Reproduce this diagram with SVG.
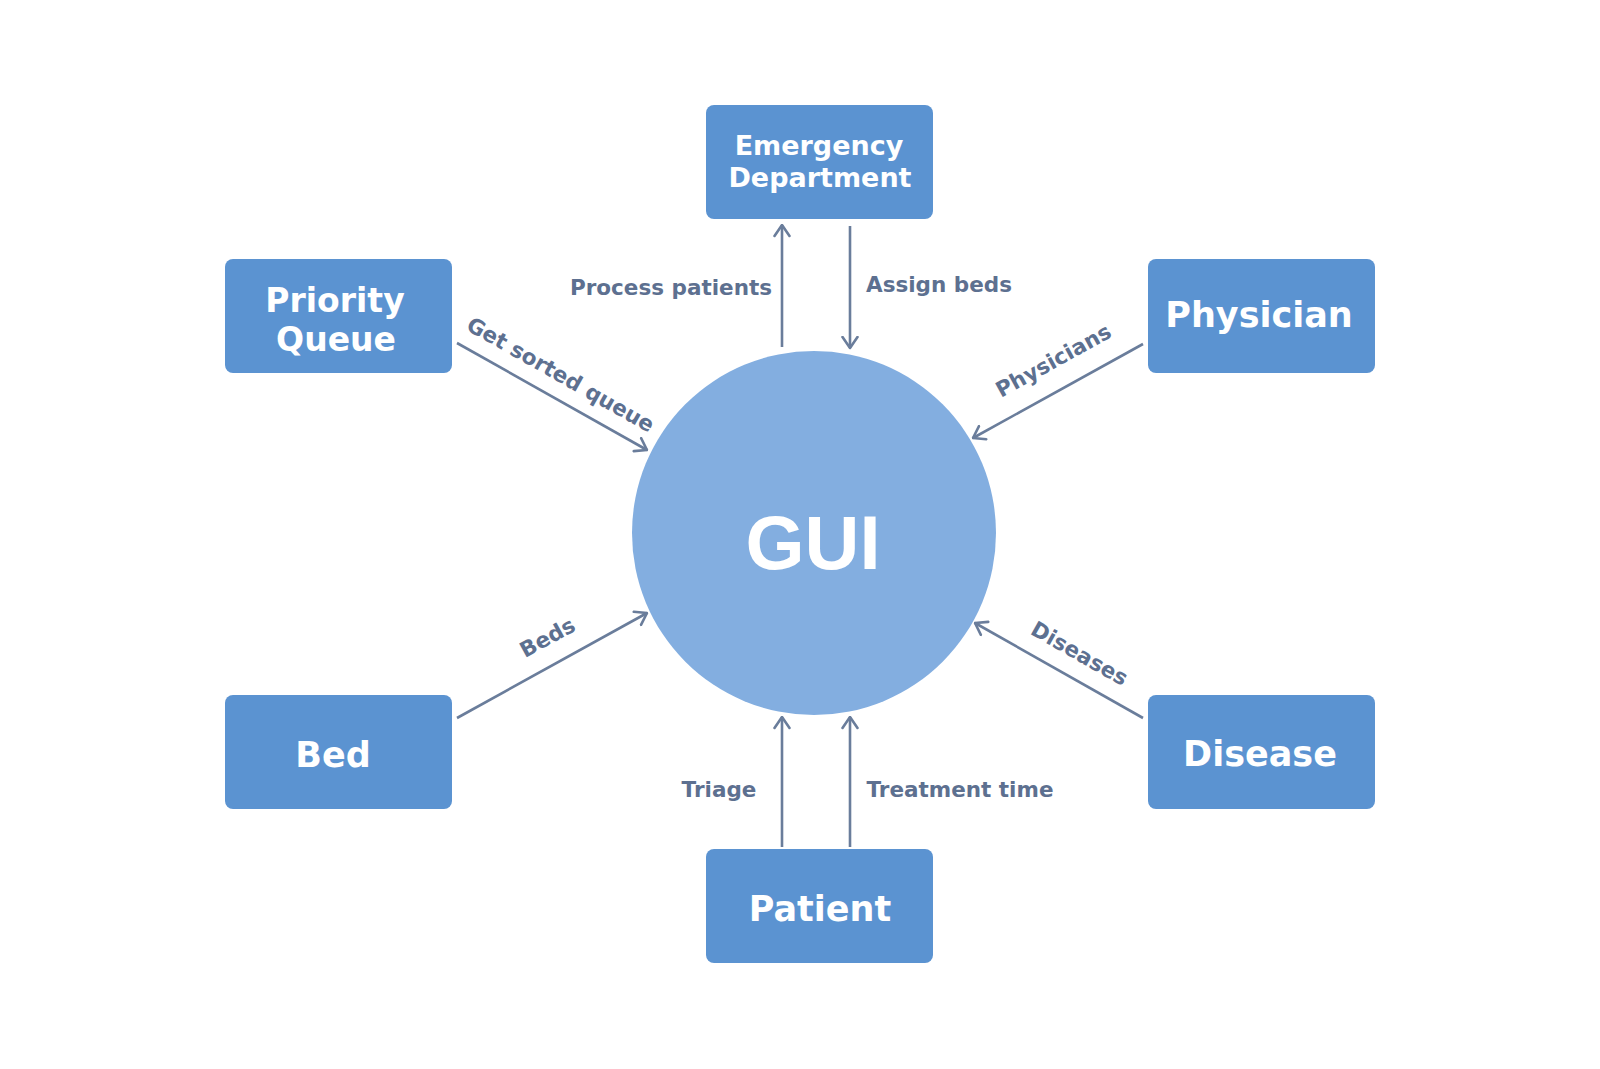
<svg xmlns="http://www.w3.org/2000/svg" width="1600" height="1069" viewBox="0 0 1600 1069">
<defs>
<style>
.box{fill:#5b93d1;}
.hub{fill:#83aee0;}
.nl{font-family:"DejaVu Sans","Liberation Sans",sans-serif;font-weight:bold;fill:#ffffff;text-anchor:middle;}
.el{font-family:"DejaVu Sans","Liberation Sans",sans-serif;font-weight:bold;font-size:21.5px;fill:#5d7090;text-anchor:middle;}
.edge{stroke:#6a7d9b;stroke-width:2.6;fill:none;marker-end:url(#arr);}
</style>
<marker id="arr" markerUnits="userSpaceOnUse" viewBox="0 0 14 18" refX="12.5" refY="9" markerWidth="14" markerHeight="18" orient="auto">
<path d="M1.5,1.5 L12.5,9 L1.5,16.5" fill="none" stroke="#6a7d9b" stroke-width="2.6" stroke-linecap="round" stroke-linejoin="round"/>
</marker>
</defs>
<rect width="1600" height="1069" fill="#ffffff"/>

<g id="connectors">
<line class="edge" x1="782" y1="347" x2="782" y2="225"/>
<line class="edge" x1="850" y1="226" x2="850" y2="348"/>
<line class="edge" x1="457" y1="343" x2="647" y2="450"/>
<line class="edge" x1="1143" y1="344" x2="973" y2="438"/>
<line class="edge" x1="457" y1="718" x2="647" y2="613"/>
<line class="edge" x1="1143" y1="718" x2="975" y2="623"/>
<line class="edge" x1="782" y1="847" x2="782" y2="717"/>
<line class="edge" x1="850" y1="847" x2="850" y2="717"/>
<text class="el" x="671" y="295">Process patients</text>
<text class="el" x="939" y="292">Assign beds</text>
<text class="el" x="719" y="797">Triage</text>
<text class="el" x="960" y="797">Treatment time</text>
<text class="el" transform="translate(557,381) rotate(29.4)">Get sorted queue</text>
<text class="el" transform="translate(1057,367) rotate(-28.9)">Physicians</text>
<text class="el" transform="translate(551,644) rotate(-28.9)">Beds</text>
<text class="el" transform="translate(1076,660) rotate(29.5)">Diseases</text>
</g>

<g id="gui">
<circle class="hub" cx="814" cy="533" r="182"/>
<text x="813" y="569" font-family="Liberation Sans, Arial, sans-serif" font-weight="bold" font-size="76" fill="#ffffff" text-anchor="middle">GUI</text>
</g>

<g id="emergency-department">
<rect class="box" x="706" y="105" width="227" height="114" rx="8"/>
<text class="nl" x="819" y="155" font-size="27">Emergency</text>
<text class="nl" x="820" y="187" font-size="27">Department</text>
</g>

<g id="priority-queue">
<rect class="box" x="225" y="259" width="227" height="114" rx="8"/>
<text class="nl" x="335" y="312" font-size="33">Priority</text>
<text class="nl" x="336" y="351" font-size="33">Queue</text>
</g>

<g id="physician">
<rect class="box" x="1148" y="259" width="227" height="114" rx="8"/>
<text class="nl" x="1259" y="327" font-size="35">Physician</text>
</g>

<g id="bed">
<rect class="box" x="225" y="695" width="227" height="114" rx="8"/>
<text class="nl" x="333" y="767" font-size="35">Bed</text>
</g>

<g id="disease">
<rect class="box" x="1148" y="695" width="227" height="114" rx="8"/>
<text class="nl" x="1260" y="766" font-size="35">Disease</text>
</g>

<g id="patient">
<rect class="box" x="706" y="849" width="227" height="114" rx="8"/>
<text class="nl" x="820" y="921" font-size="35">Patient</text>
</g>
</svg>
